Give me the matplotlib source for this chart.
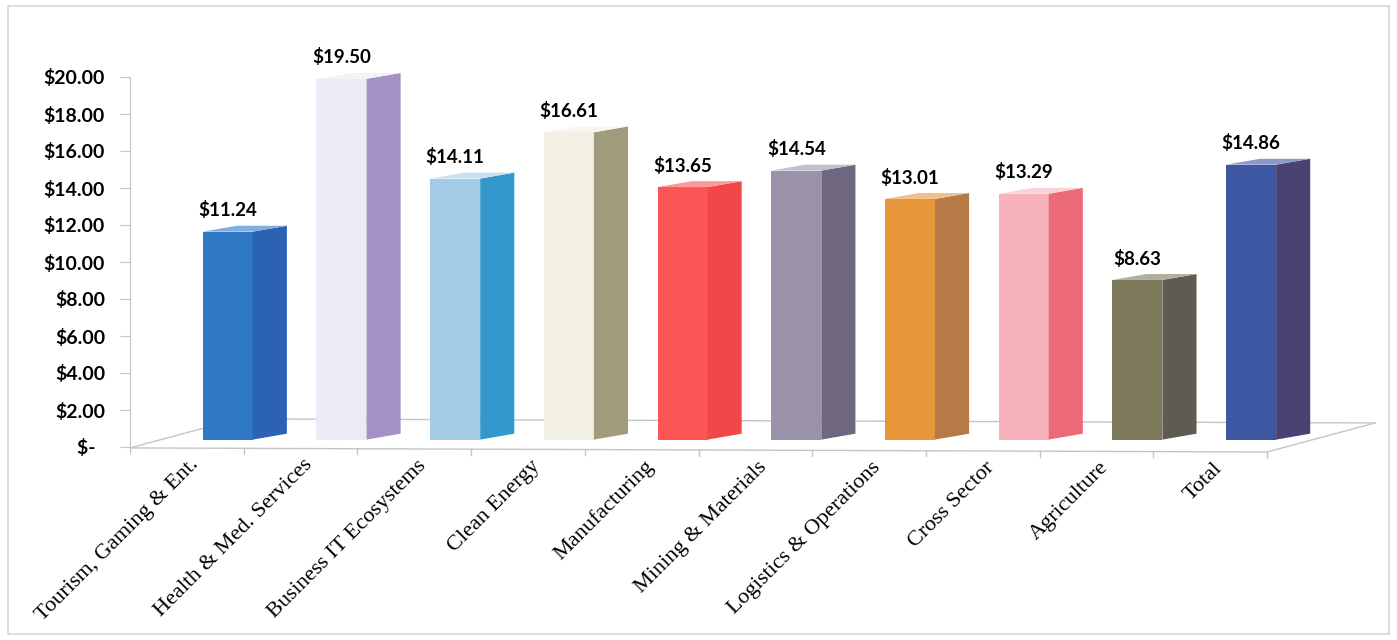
import numpy as np
import matplotlib.pyplot as plt
from matplotlib.patches import Polygon, Rectangle
from matplotlib.colors import to_rgb

categories = ['Tourism, Gaming & Ent.', 'Health & Med. Services', 'Business IT Ecosystems',
              'Clean Energy', 'Manufacturing', 'Mining & Materials', 'Logistics & Operations',
              'Cross Sector', 'Agriculture', 'Total']
values = [11.24, 19.50, 14.11, 16.61, 13.65, 14.54, 13.01, 13.29, 8.63, 14.86]
front_colors = ['#2e78c4', '#eceaf4', '#a3cbe6', '#f1f0e2', '#fb5555',
                '#9a92aa', '#e8963a', '#f7b3bb', '#7d7a5b', '#3d57a3']
side_colors = ['#2c62b4', '#a491c6', '#3399cc', '#9f9b7b', '#f04848',
               '#6f6680', '#b57a46', '#ec6a78', '#5f5b52', '#4a4272']
yticks = [0, 2, 4, 6, 8, 10, 12, 14, 16, 18, 20]
ytick_labels = ['$-  ', '$2.00', '$4.00', '$6.00', '$8.00', '$10.00',
                '$12.00', '$14.00', '$16.00', '$18.00', '$20.00']

W, H = 1397, 640
fig = plt.figure(figsize=(W / 100, H / 100), dpi=100)
fig.patches.append(Rectangle((8 / W, 6 / H), 1381 / W, 628 / H, transform=fig.transFigure,
                             fill=False, edgecolor='#d4d4dc', linewidth=1.2))

# axes: x=0 at px 130, 113.7 px per category; y=0 at px 447, 18.5 px per unit
ax = fig.add_axes([130 / W, (H - 474.75) / H, 11.0 * 113.7 / W, 22.5 * 18.5 / H])
ax.set_xlim(0, 11.0)
ax.set_ylim(-1.5, 21)
ax.patch.set_alpha(0)

for s in ['top', 'right', 'bottom']:
    ax.spines[s].set_visible(False)
ax.spines['left'].set_bounds(0, 20)
ax.spines['left'].set_color('#c4c4cc')
ax.set_xticks([])
ax.set_yticks(yticks)
ax.set_yticklabels(ytick_labels, fontsize=14, fontweight='bold', family='Lato')
ax.tick_params(axis='y', length=7, color='#c4c4cc', pad=11)

# floor
line_c = '#c4c4cc'
front_l, front_r = -0.05, -0.27
depth = (0.95, 1.57)
ax.plot([0, 10], [front_l, front_r], color=line_c, lw=1)
ax.plot([0, depth[0]], [front_l, front_l + depth[1]], color=line_c, lw=1)
ax.plot([10, 10 + depth[0]], [front_r, front_r + depth[1]], color=line_c, lw=1)
ax.plot([depth[0], 10 + depth[0]], [front_l + depth[1], front_r + depth[1]], color=line_c, lw=1)
for i in range(11):
    yy = front_l + (front_r - front_l) * i / 10
    ax.plot([i, i], [yy, yy - 0.3], color=line_c, lw=1)

# bars
x = np.arange(len(values))
base = 0.4
fw = 0.44
dx, dy = 0.3, 0.32
ax.bar(x + 0.64, values, width=fw, bottom=base, align='edge', color=front_colors, zorder=3)
for i, v in enumerate(values):
    x0 = i + 0.64
    x1 = x0 + fw
    top = base + v
    ax.add_patch(Polygon([(x1, base), (x1 + dx, base + dy), (x1 + dx, top + dy), (x1, top)],
                         closed=True, facecolor=side_colors[i], edgecolor='none', zorder=3))
    tc = 0.6 * np.array(to_rgb(front_colors[i])) + 0.4
    ax.add_patch(Polygon([(x0, top), (x0 + dx, top + dy), (x1 + dx, top + dy), (x1, top)],
                         closed=True, facecolor=tc, edgecolor='none', zorder=3))
    ax.text(x0 + fw / 2, top + dy + 0.35, f'${v:.2f}', ha='center', va='bottom',
            fontsize=13.5, fontweight='bold', family='Lato', zorder=4)

# category labels
for i, c in enumerate(categories):
    yy = front_l + (front_r - front_l) * (i + 0.5) / 10
    ax.text(i + 0.58, yy - 0.75, c, rotation=45, rotation_mode='anchor', ha='right', va='center',
            fontsize=16, family='Liberation Serif')

fig.savefig('out.png', dpi=100)
